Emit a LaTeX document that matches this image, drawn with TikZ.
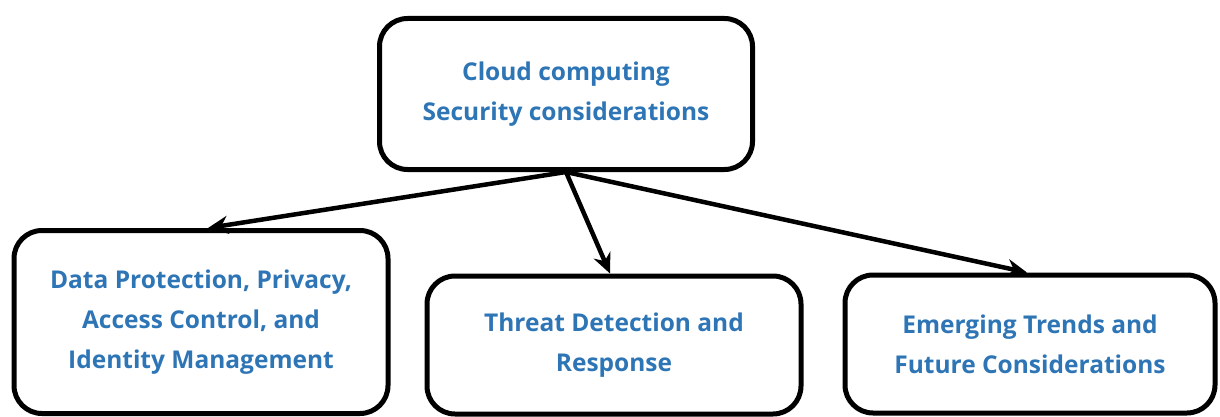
\documentclass[tikz,border=0pt]{standalone}
\usepackage{fontspec}
\setmainfont{Open Sans}
\usetikzlibrary{arrows.meta}
\definecolor{titleblue}{RGB}{46,117,182}
\tikzset{
  topic/.style={draw,line width=5pt,rounded corners=28pt,align=center,
    text=titleblue,font=\bfseries\fontsize{24.5}{40}\selectfont,inner sep=0pt},
  link/.style={line width=4.5pt,-{Stealth[length=20pt,width=18pt]}}
}
\begin{document}
\begin{tikzpicture}[x=1pt,y=-1pt]
	\useasboundingbox (0,0) rectangle (1220,417);
	%\draw[help lines] (0,0) grid[step=100] (1220,417);
	\node[topic,minimum width=373pt,minimum height=151pt] (cloud) at (566,94) {Cloud computing\\Security considerations};
	\node[topic,minimum width=374pt,minimum height=183pt] (data) at (201,322) {Data Protection, Privacy,\\Access Control, and\\Identity Management};
	\node[topic,minimum width=374pt,minimum height=138pt] (threat) at (614,345) {Threat Detection and\\Response};
	\node[topic,minimum width=370pt,minimum height=138pt] (trends) at (1030,344) {Emerging Trends and\\Future Considerations};
	\draw[link] (cloud.south) -- ([xshift=7pt]data.north);
	\draw[link] (cloud.south) -- ([xshift=-4pt]threat.north);
	\draw[link] (cloud.south) -- ([xshift=-3pt]trends.north);
\end{tikzpicture}
\end{document}
